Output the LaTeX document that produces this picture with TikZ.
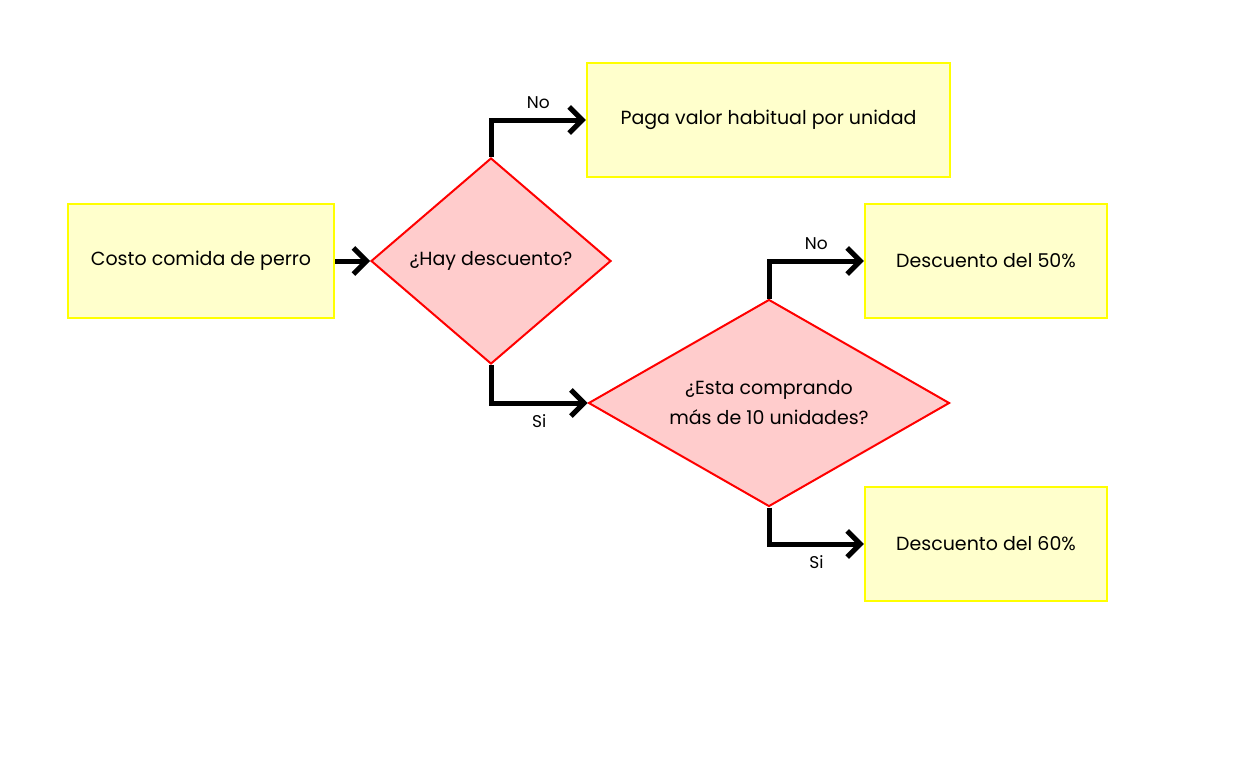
\documentclass[tikz,border=0pt]{standalone}
\usepackage{fontspec}
\setmainfont{Poppins}
\usetikzlibrary{shapes.geometric,arrows.meta}
\definecolor{boxfill}{HTML}{FFFFCC}
\definecolor{boxline}{HTML}{FFFF00}
\definecolor{decfill}{HTML}{FFCCCC}
\definecolor{decline}{HTML}{FF0000}
\begin{document}
\begin{tikzpicture}[x=1pt,y=-1pt,
  every node/.style={font=\fontsize{19}{30}\selectfont},
  procbox/.style={draw=boxline, fill=boxfill, line width=2.5pt, inner sep=0pt},
  decision/.style={diamond, draw=decline, fill=decfill, line width=2pt, inner sep=0pt, align=center},
  flow/.style={line width=5pt, draw=black, -{Straight Barb[length=13pt,width=26pt]}},
  lbl/.style={font=\fontsize{17}{18}\selectfont}]
\useasboundingbox (0,0) rectangle (1248,768);
\fill[white] (0,0) rectangle (1248,768);
\node[procbox, minimum width=266pt, minimum height=114pt] (costo) at (201,261) {Costo comida de perro};
\node[decision, minimum width=240pt, minimum height=206pt, aspect=1.165] (hay) at (491,261) {¿Hay descuento?};
\node[procbox, minimum width=363pt, minimum height=114pt] (paga) at (768.5,120) {Paga valor habitual por unidad};
\node[decision, minimum width=361pt, minimum height=207pt, aspect=1.744] (esta) at (769,403) {¿Esta comprando\\más de 10 unidades?};
\node[procbox, minimum width=242pt, minimum height=114pt] (d50) at (986,261) {Descuento del 50\%};
\node[procbox, minimum width=242pt, minimum height=114pt] (d60) at (986,544) {Descuento del 60\%};
\draw[flow] (costo.east) -- (hay.west);
\draw[flow] (hay.north) |- (paga.west) node[lbl, pos=0.75, above=6pt] {No};
\draw[flow] (hay.south) |- (esta.west) node[lbl, pos=0.75, below=6pt] {Si};
\draw[flow] (esta.north) |- (d50.west) node[lbl, pos=0.75, above=6pt] {No};
\draw[flow] (esta.south) |- (d60.west) node[lbl, pos=0.75, below=6pt] {Si};
\end{tikzpicture}
\end{document}
